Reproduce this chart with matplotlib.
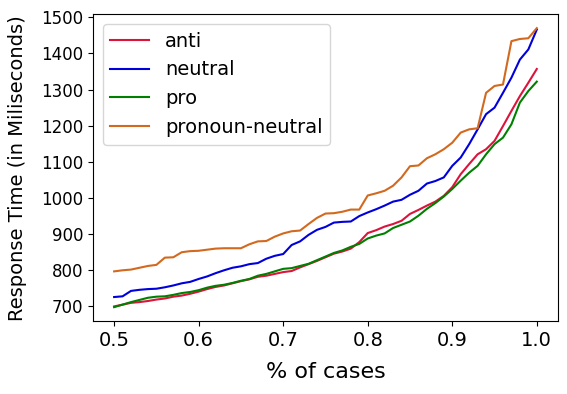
import matplotlib
matplotlib.use("Agg")
import matplotlib.pyplot as plt
import numpy as np

x = np.round(np.arange(0.50, 1.0001, 0.01), 2)

anti = [700, 705, 710, 712, 715, 719, 722, 727, 730, 735,
        741, 748, 754, 758, 764, 770, 775, 782, 785, 790,
        795, 798, 808, 817, 826, 836, 846, 852, 860, 878,
        903, 911, 921, 928, 937, 956, 967, 979, 990, 1006,
        1030, 1066, 1094, 1121, 1135, 1158, 1199, 1241, 1282, 1319,
        1357]
neutral = [726, 728, 743, 746, 748, 749, 753, 758, 764, 768,
           776, 783, 792, 800, 807, 811, 817, 820, 832, 840,
           845, 870, 880, 898, 912, 920, 932, 934, 935, 950,
           960, 969, 979, 990, 995, 1009, 1020, 1040, 1047, 1057,
           1089, 1112, 1149, 1190, 1232, 1250, 1291, 1333, 1383, 1411,
           1466]
pro = [698, 705, 712, 718, 724, 727, 728, 732, 737, 740,
       745, 752, 757, 760, 765, 771, 776, 785, 790, 797,
       804, 806, 812, 818, 828, 838, 848, 855, 865, 873,
       888, 896, 902, 917, 926, 935, 951, 970, 986, 1004,
       1025, 1048, 1070, 1089, 1121, 1149, 1167, 1204, 1264, 1296,
       1322]
pronoun_neutral = [797, 800, 802, 807, 812, 815, 835, 836, 850, 853,
                   854, 857, 860, 861, 861, 861, 872, 880, 881, 893,
                   902, 908, 910, 928, 945, 957, 958, 962, 968, 968,
                   1007, 1013, 1020, 1034, 1057, 1088, 1090, 1110, 1121, 1135,
                   1153, 1181, 1190, 1193, 1291, 1310, 1314, 1434, 1440, 1442,
                   1470]

fig = plt.figure(figsize=(5.67, 3.94), dpi=100)
ax = fig.add_axes([0.164, 0.185, 0.820, 0.779])
ax.plot(x, anti, color="#DC143C", lw=1.5, label="anti")
ax.plot(x, neutral, color="#0000DD", lw=1.5, label="neutral")
ax.plot(x, pro, color="#008000", lw=1.5, label="pro")
ax.plot(x, pronoun_neutral, color="#D2691E", lw=1.5, label="pronoun-neutral")

ax.set_xticks([0.5, 0.6, 0.7, 0.8, 0.9, 1.0])
ax.set_xticklabels(["0.5", "0.6", "0.7", "0.8", "0.9", "1.0"])
ax.tick_params(axis="x", labelsize=14)
ax.tick_params(axis="y", labelsize=12)
ax.set_xlabel("% of cases", fontsize=16, labelpad=9)
ax.set_ylabel("Response Time (in Miliseconds)", fontsize=14, labelpad=10)
ax.legend(loc="upper left", fontsize=14)

fig.savefig("out.png", dpi=100)
